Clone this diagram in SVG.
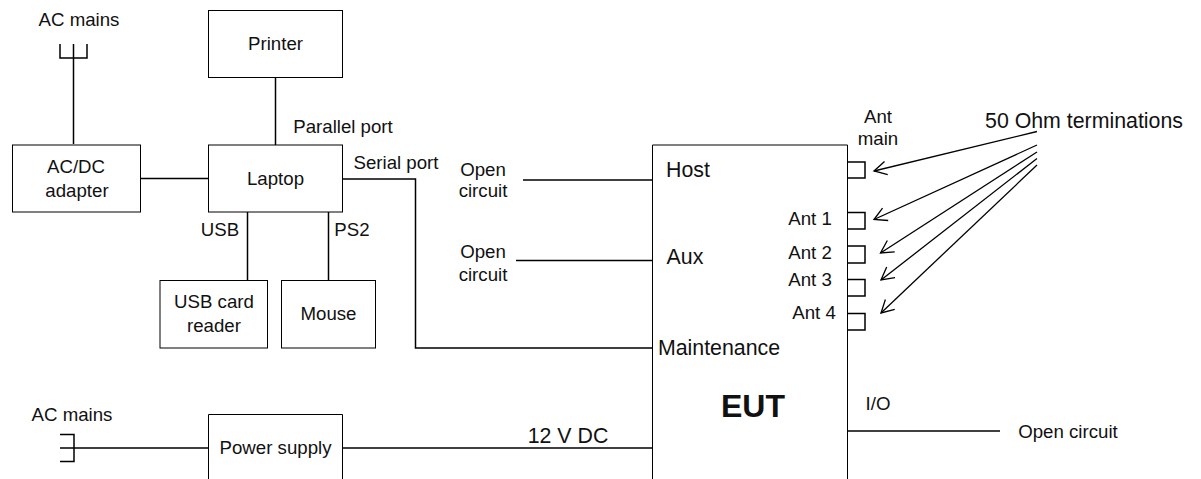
<svg xmlns="http://www.w3.org/2000/svg" width="1201" height="479" viewBox="0 0 1201 479">
<style>
text{font-family:"Liberation Sans",Arial,sans-serif;font-size:18.67px;fill:#111;text-anchor:middle}
.big{font-size:21.33px}
.b{fill:#fff;stroke:#000;stroke-width:1}
.l{fill:none;stroke:#000;stroke-width:1.5}
.a{fill:none;stroke:#000;stroke-width:1.3}
</style>
<defs><marker id="arr" viewBox="0 0 16 16" refX="14" refY="8" markerWidth="16" markerHeight="16" markerUnits="userSpaceOnUse" orient="auto"><path d="M1.500 1.200L14 8L1.500 14.800" fill="none" stroke="#000" stroke-width="1.300"/></marker></defs>
<rect width="1201" height="479" fill="#fff"/>
<g id="connectors">
<path class="l" d="M73.500 144V58M60 44V58H87V44M73.500 44V58"/>
<path class="l" d="M275.500 78V145"/>
<path class="l" d="M141 178.500H208"/>
<path class="l" d="M343 179H415.500V348H652"/>
<path class="l" d="M247.500 212V280"/>
<path class="l" d="M328.500 212V280"/>
<path class="l" d="M523 180H652"/>
<path class="l" d="M516 260.500H652"/>
<path class="l" d="M60 448H74M60 434.500H74V461.500H60M60 448H208"/>
<path class="l" d="M343 448H652"/>
<path class="l" d="M848 431H1000"/>
<path class="a" marker-end="url(#arr)" d="M1037 131.500L874 171"/>
<path class="a" marker-end="url(#arr)" d="M1037 145L874 219.500"/>
<path class="a" marker-end="url(#arr)" d="M1037 152L880.500 253"/>
<path class="a" marker-end="url(#arr)" d="M1037 158.500L881 280"/>
<path class="a" marker-end="url(#arr)" d="M1037 165L881 313"/>
</g>
<g id="printer"><rect class="b" x="208.500" y="10.500" width="134" height="67"/><text x="275.500" y="50">Printer</text></g>
<g id="adapter"><rect class="b" x="12.500" y="145" width="128" height="67"/><text x="76" y="173">AC/DC</text><text x="77" y="197">adapter</text></g>
<g id="laptop"><rect class="b" x="208.500" y="145" width="134" height="67"/><text x="275.500" y="185">Laptop</text></g>
<g id="reader"><rect class="b" x="160" y="280.500" width="107.500" height="67.500"/><text x="214" y="308">USB card</text><text x="214" y="332">reader</text></g>
<g id="mouse"><rect class="b" x="281.500" y="280.500" width="94" height="67.500"/><text x="328.500" y="320">Mouse</text></g>
<g id="psu"><path class="b" d="M208.500 479V414.500H342.500V479"/><text x="275.500" y="454">Power supply</text></g>
<g id="eut"><path class="b" d="M652.500 479V145H847.500V479"/>
<text class="big" x="688" y="177">Host</text>
<text class="big" x="685" y="264">Aux</text>
<text class="big" x="719" y="355">Maintenance</text>
<text x="753" y="417" style="font-size:32px;font-weight:bold">EUT</text>
<text x="810" y="225">Ant 1</text><text x="810" y="259">Ant 2</text><text x="810" y="286">Ant 3</text><text x="814" y="319">Ant 4</text></g>
<g id="ports">
<path class="l" d="M848 162H865V178H848M848 212.500H865V229H848M848 246H865V263H848M848 279.500H865V296H848M848 313.500H865V330H848"/>
</g>
<g id="labels">
<text x="79" y="26">AC mains</text>
<text x="343" y="133">Parallel port</text>
<text x="396" y="169">Serial port</text>
<text x="220" y="236">USB</text>
<text x="352" y="236">PS2</text>
<text x="483" y="175.500">Open</text><text x="483" y="197">circuit</text>
<text x="483" y="258">Open</text><text x="483" y="281">circuit</text>
<text x="72" y="421">AC mains</text>
<text class="big" x="568" y="442.500">12 V DC</text>
<text x="878" y="410">I/O</text>
<text x="1068" y="438">Open circuit</text>
<text x="878" y="123">Ant</text><text x="878" y="144.500">main</text>
<text class="big" x="1084" y="128">50 Ohm terminations</text>
</g>
</svg>
